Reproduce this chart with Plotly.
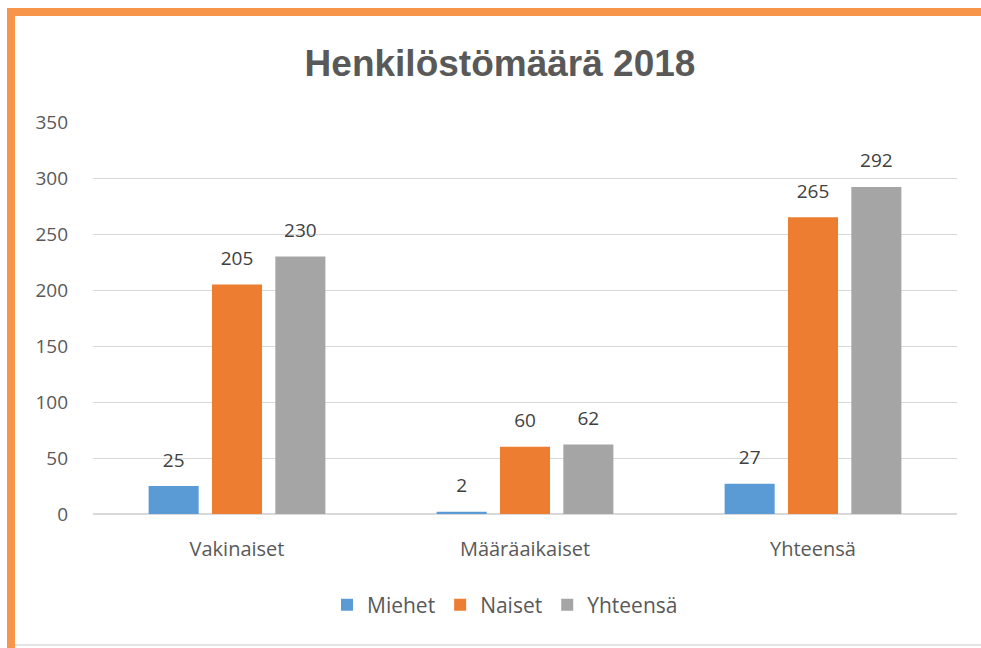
import plotly.graph_objects as go

categories = ["Vakinaiset", "Määräaikaiset", "Yhteensä"]
miehet = [25, 2, 27]
naiset = [205, 60, 265]
yhteensa = [230, 62, 292]

W, H = 981, 648
L, R, T, B = 93, 24, 122, 134
pw, ph = W - L - R, H - T - B


def px_x(x):
    return (x - L) / pw


def px_y(y):
    return (H - B - y) / ph


COLORS = {"Miehet": "#5B9BD5", "Naiset": "#ED7D31", "Yhteensä": "#A5A5A5"}
series = [("Miehet", miehet), ("Naiset", naiset), ("Yhteensä", yhteensa)]

fig = go.Figure()
for i, (name, vals) in enumerate(series):
    fig.add_trace(go.Bar(
        x=categories,
        y=vals,
        name=name,
        offsetgroup=str(i),
        marker=dict(color=COLORS[name], line=dict(width=0)),
    ))

# value labels: invisible markers push the text up like Excel does
for i, (name, vals) in enumerate(series):
    fig.add_trace(go.Scatter(
        x=categories,
        y=vals,
        offsetgroup=str(i),
        mode="markers+text",
        marker=dict(size=22, opacity=0),
        text=vals,
        textposition="top center",
        textfont=dict(family="Open Sans, sans-serif", size=19, color="#404040"),
        showlegend=False,
        hoverinfo="skip",
        cliponaxis=False,
    ))

# orange frame on the left and top edges, faint grey bottom line
shapes = [
    dict(type="rect", xref="paper", yref="paper",
         x0=px_x(7), x1=px_x(15), y0=px_y(648), y1=px_y(8),
         fillcolor="#F7964A", line=dict(width=0), layer="above"),
    dict(type="rect", xref="paper", yref="paper",
         x0=px_x(7), x1=px_x(981), y0=px_y(16), y1=px_y(8),
         fillcolor="#F7964A", line=dict(width=0), layer="above"),
    dict(type="line", xref="paper", yref="paper",
         x0=px_x(15), x1=px_x(981), y0=px_y(645), y1=px_y(645),
         line=dict(color="#E4E4E4", width=2)),
]

fig.update_layout(
    width=W,
    height=H,
    template="plotly_white",
    font=dict(family="Open Sans, sans-serif", size=19, color="#595959"),
    plot_bgcolor="#FFFFFF",
    paper_bgcolor="#FFFFFF",
    margin=dict(l=L, r=R, t=T, b=B, autoexpand=False),
    barmode="group",
    bargap=0.34,
    bargroupgap=0.21,
    scattermode="group",
    scattergap=0.34,
    title=dict(
        text="<b>Henkilöstömäärä 2018</b>",
        x=px_x(500), xref="paper", xanchor="center",
        y=1 - 63 / H, yanchor="middle",
        font=dict(family="Liberation Sans, Arial, sans-serif", size=37, color="#595959"),
    ),
    xaxis=dict(
        showgrid=False,
        showline=True,
        linecolor="#D9D9D9",
        linewidth=1,
        ticks="",
        ticklabelstandoff=17,
        tickfont=dict(size=20, color="#595959"),
    ),
    yaxis=dict(
        range=[0, 350],
        dtick=50,
        gridcolor="#D9D9D9",
        gridwidth=1,
        zeroline=True,
        zerolinecolor="#D9D9D9",
        ticklabelstandoff=24,
        tickfont=dict(size=19, color="#595959"),
    ),
    showlegend=True,
    legend=dict(
        orientation="h",
        x=px_x(505), xanchor="center",
        y=px_y(605), yanchor="middle",
        font=dict(size=21, color="#595959"),
        traceorder="normal",
    ),
    shapes=shapes,
)

fig.write_html(
    "out.html",
    config={"displayModeBar": False},
    post_script="document.body.style.margin='0';",
)
